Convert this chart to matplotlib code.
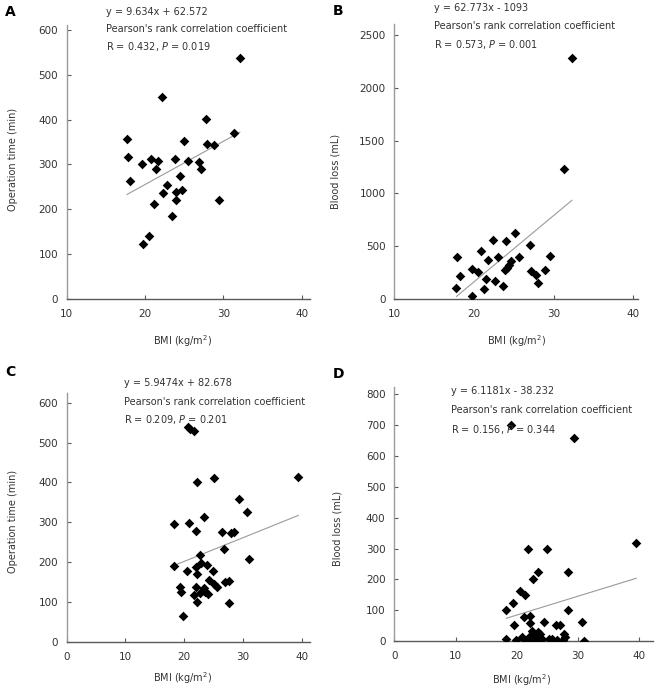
import matplotlib
matplotlib.use("Agg")
import matplotlib.pyplot as plt
import numpy as np

plt.rcParams['font.family'] = ['DejaVu Sans']
plt.rcParams['mathtext.fontset'] = 'dejavusans'

# ---------------- data ----------------
bmi_a = [32.1, 22.2, 27.8, 31.3, 17.7, 25.0, 27.9, 28.8, 17.8, 20.8, 21.6, 23.8, 25.5, 26.9, 19.6,
         21.4, 27.2, 18.1, 24.5, 22.8, 22.3, 24.0, 24.7, 23.9, 21.1, 29.4, 23.5, 20.5, 19.7]
op_a = [537, 451, 401, 371, 357, 352, 345, 343, 316, 312, 308, 313, 308, 306, 301,
        290, 290, 263, 274, 254, 237, 239, 243, 221, 211, 220, 186, 140, 123]

bmi_b = [32.3, 31.3, 25.2, 22.4, 24.0, 27.0, 20.9, 17.9, 21.7, 23.0, 25.6, 29.5, 24.7, 24.4, 24.1,
         23.9, 19.8, 20.5, 27.2, 28.9, 27.8, 18.2, 21.5, 22.6, 28.0, 23.6, 17.8, 21.2, 19.8]
loss_b = [2282, 1231, 628, 561, 552, 508, 457, 395, 372, 398, 395, 410, 363, 322, 291,
          272, 284, 258, 268, 272, 227, 215, 192, 170, 149, 126, 107, 92, 31]

bmi_c = [20.6, 21.0, 21.6, 25.0, 39.4, 22.1, 29.3, 30.6, 23.3, 18.3, 20.8, 22.0, 26.4, 28.0,
         28.5, 26.8, 31.0, 22.6, 18.2, 20.5, 22.0, 22.8, 23.8, 22.2, 24.9, 24.2, 25.1, 27.0,
         27.7, 25.5, 19.3, 19.5, 22.0, 23.3, 23.6, 22.6, 21.6, 24.1, 22.1, 27.6, 19.8]
op_c = [540, 535, 529, 412, 414, 400, 358, 325, 313, 295, 297, 278, 276, 272,
        276, 232, 207, 217, 190, 178, 187, 198, 192, 170, 178, 155, 145, 151,
        152, 138, 138, 126, 137, 134, 126, 123, 117, 121, 100, 98, 65]

bmi_d = [19.1, 29.3, 39.5, 21.8, 24.9, 23.4, 28.3, 22.6, 20.6, 21.4, 19.4, 18.3, 28.4, 21.2,
         22.1, 19.5, 22.1, 24.5, 26.4, 27.0, 30.7, 22.5, 23.4, 23.8, 23.0, 22.2, 20.9, 27.7,
         27.9, 18.3, 19.9, 21.6, 22.7, 24.1, 25.2, 25.7, 27.6, 31.0, 23.6, 26.6, 21.3]
loss_d = [700, 659, 319, 300, 300, 223, 223, 200, 163, 148, 124, 101, 101, 79,
          81, 52, 57, 61, 52, 52, 61, 33, 30, 23, 16, 16, 12, 23,
          12, 5, 3, 3, 3, 5, 5, 5, 3, 1, 4, 3, 2]

slopes = [9.634, 62.773, 5.9474, 6.1181]
intercepts = [62.572, -1093, 82.678, -38.232]
equations = ["y = 9.634x + 62.572", "y = 62.773x - 1093",
             "y = 5.9474x + 82.678", "y = 6.1181x - 38.232"]
r_texts = [r"R = 0.432, $\mathit{P}$ = 0.019", r"R = 0.573, $\mathit{P}$ = 0.001",
           r"R = 0.209, $\mathit{P}$ = 0.201", r"R = 0.156, $\mathit{P}$ = 0.344"]
panel_letters = ["A", "B", "C", "D"]
ylabels = ["Operation time (min)", "Blood loss (mL)", "Operation time (min)", "Blood loss (mL)"]
xlabel = r"BMI (kg/m$^2$)"
xticks = [[10, 20, 30, 40], [10, 20, 30, 40], [0, 10, 20, 30, 40], [0, 10, 20, 30, 40]]
yticks = [list(range(0, 601, 100)), list(range(0, 2501, 500)),
          list(range(0, 601, 100)), list(range(0, 801, 100))]

# ---------------- layout ----------------
W, H = 661, 691
fig = plt.figure(figsize=(W / 100, H / 100), dpi=100)

def px(x, y):
    return x / W, 1 - y / H

# axes boxes in pixels: left, right, top, bottom
boxes = [(66.7, 310, 25, 299), (394.3, 638.3, 24, 299),
         (66.7, 310, 393.3, 641.7), (394.3, 653.3, 386.7, 641)]
xlims = [(10, 41.06), (10, 40.63), (0, 41.4), (0, 42.3)]
ylims = [(0, 611), (0, 2604), (0, 623.6), (0, 825)]
text_pos = [(106, [12, 29, 46.7]), (434, [8.3, 26, 44.3]),
            (124, [383, 402, 420]), (450.7, [391, 410, 429])]
letter_pos = [(10, 12.5), (338.5, 11), (10, 372.5), (339, 374)]
xlabel_pos = [(183, 341), (516.7, 341), (183, 678), (521.7, 680)]
ylabel_pos = [(13, 159), (336, 171), (13, 521.7), (338, 528)]

datasets = [(bmi_a, op_a), (bmi_b, loss_b), (bmi_c, op_c), (bmi_d, loss_d)]
txtc = '#333333'
fs = 7.5
fs_ann = 7.0

for i in range(4):
    l, r, t, b = boxes[i]
    ax = fig.add_axes([l / W, 1 - b / H, (r - l) / W, (b - t) / H])
    xs, ys = datasets[i]
    ax.scatter(xs, ys, marker='D', s=24, color='black', linewidths=0, zorder=3)
    xx = np.array([min(xs), max(xs)])
    ax.plot(xx, slopes[i] * xx + intercepts[i], color='#9a9a9a', lw=0.8, zorder=2)
    ax.set_xlim(*xlims[i])
    ax.set_ylim(*ylims[i])
    ax.set_xticks(xticks[i])
    ax.set_yticks(yticks[i])
    for s in ['top', 'right']:
        ax.spines[s].set_visible(False)
    ax.spines['left'].set_color('#9a9a9a')
    ax.spines['bottom'].set_color('#5a5a5a')
    ax.spines['left'].set_linewidth(1.0)
    ax.spines['bottom'].set_linewidth(1.0)
    ax.tick_params(axis='x', direction='in', length=3, width=0.8, color='#5a5a5a',
                   labelsize=fs, labelcolor=txtc, pad=7.5)
    ax.tick_params(axis='y', direction='in', length=3, width=0.8, color='#5a5a5a',
                   labelsize=fs, labelcolor=txtc, pad=6.3)
    ax.patch.set_visible(False)

    tx, tys = text_pos[i]
    for txt, ty in zip([equations[i], "Pearson's rank correlation coefficient", r_texts[i]], tys):
        fig.text(*px(tx, ty), txt, ha='left', va='center', fontsize=fs_ann, color=txtc)
    fig.text(*px(*letter_pos[i]), panel_letters[i], ha='center', va='center',
             fontsize=10, fontweight='bold', color='black')
    fig.text(*px(*xlabel_pos[i]), xlabel, ha='center', va='center', fontsize=fs_ann, color=txtc)
    fig.text(*px(*ylabel_pos[i]), ylabels[i], ha='center', va='center', rotation=90,
             fontsize=fs_ann, color=txtc)

fig.savefig('out.png', dpi=100)
